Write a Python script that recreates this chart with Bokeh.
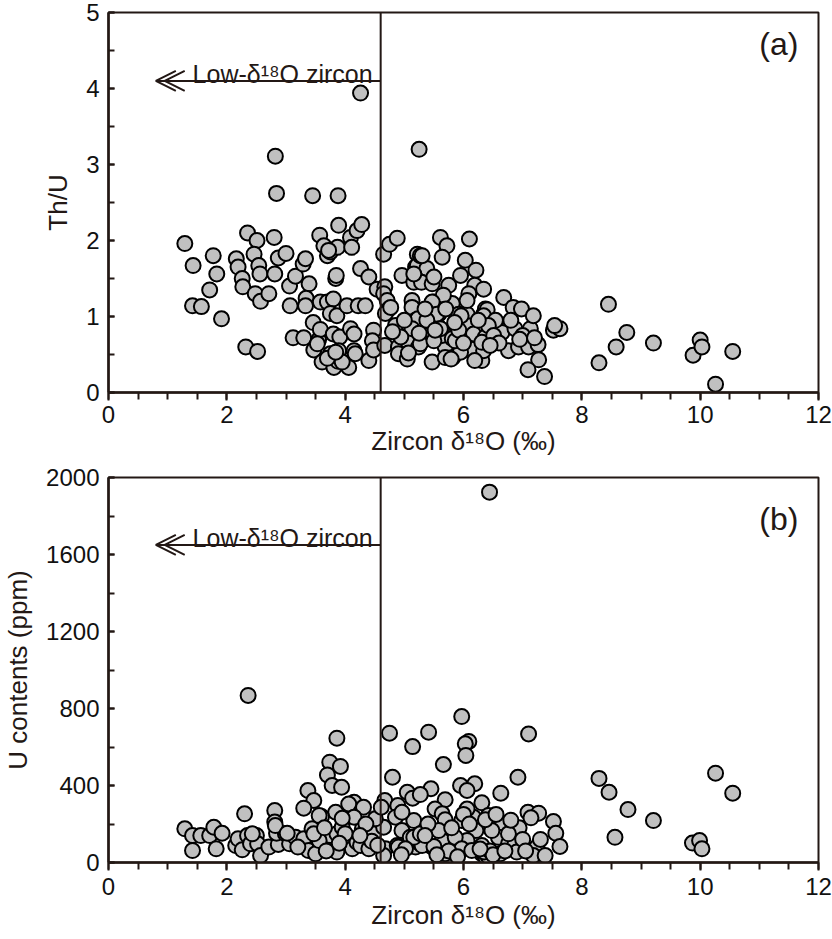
from bokeh.plotting import figure
from bokeh.layouts import column
from bokeh.models import Span, Arrow, OpenHead, Label, Range1d, FixedTicker, ColumnDataSource
from bokeh.embed import file_html
from bokeh.resources import INLINE

# ---------------- data: panel (a) ----------------
d18o_a = [
    1.29, 1.43, 1.42, 1.57, 1.77, 1.83, 1.71, 1.91, 2.35, 2.51, 2.16, 2.19, 2.26, 2.27, 2.46, 2.54,
    2.56, 2.48, 2.57, 2.71, 2.80, 2.87, 3.00, 2.81, 3.06, 3.16, 3.07, 2.32, 2.52, 3.12, 3.30, 3.29,
    3.33, 3.39, 3.34, 3.33, 3.46, 3.47, 3.55, 3.58, 3.57, 3.64, 3.70, 3.75, 3.87, 3.89, 3.84, 3.85,
    3.58, 3.70, 3.80, 3.75, 3.86, 3.80, 3.91, 3.61, 3.75, 3.81, 3.88, 3.89, 4.06, 3.95, 4.09, 4.20,
    4.28, 4.11, 4.26, 4.40, 4.03, 4.22, 4.34, 4.09, 4.15, 4.15, 4.17, 4.40, 4.48, 4.46, 4.48, 4.54,
    3.53, 3.70, 3.84, 3.72,
    4.26, 2.82, 2.84, 3.45, 3.88, 5.25,
    4.65, 4.75, 4.88, 4.67, 4.65, 4.71, 4.74, 4.68, 4.85, 4.67, 4.90, 4.90, 5.05, 5.05, 4.96, 5.13,
    5.16, 5.19, 5.22, 5.13, 5.19, 5.24, 4.77, 5.07, 5.23, 5.22, 5.27, 5.38, 5.29, 5.47, 5.50, 5.58,
    5.61, 5.72, 5.64, 5.47, 5.67, 5.69, 5.75, 5.81, 5.82, 5.95, 6.03, 6.10, 6.21, 6.19, 6.34, 6.09,
    6.06, 6.06, 6.17, 6.34, 6.14, 6.31, 6.34, 6.37, 6.54, 6.65, 6.68, 6.76, 5.95, 5.92, 5.13, 4.94,
    5.27, 5.58, 5.64, 5.47, 5.81, 5.30, 5.16, 5.50, 5.66, 5.47, 5.55, 5.61, 5.69, 5.79, 6.06, 5.96,
    6.40, 6.34, 6.37, 6.19, 6.84, 6.98, 6.87, 6.93, 7.13, 7.18, 7.10, 7.26, 7.27, 7.09, 7.37, 7.52,
    7.63, 7.54, 8.29, 8.45, 8.58, 8.76, 9.21, 9.88, 10.00, 10.03, 10.26, 10.55, 6.54, 6.42, 6.31, 6.51,
    5.86, 5.92, 5.50, 5.38, 5.52, 4.80, 5.00, 5.35, 5.70, 6.00, 6.25, 6.60, 6.80, 7.00, 6.45, 5.85,
    5.25, 6.95, 7.20,
]
th_u = [
    1.96, 1.67, 1.14, 1.13, 1.80, 1.56, 1.35, 0.97, 2.10, 2.00, 1.76, 1.65, 1.50, 1.39, 1.82, 1.67,
    1.56, 1.30, 1.20, 1.30, 2.04, 1.77, 1.83, 1.56, 1.40, 1.53, 1.14, 0.60, 0.54, 0.72, 0.72, 1.69,
    1.76, 1.43, 1.24, 1.14, 0.92, 0.56, 0.69, 0.83, 2.07, 1.93, 1.80, 1.85, 1.91, 2.20, 1.50, 1.54,
    1.19, 1.19, 1.23, 1.04, 1.01, 0.77, 0.73, 0.40, 0.51, 0.33, 0.41, 0.55, 0.33, 0.40, 2.04, 2.13,
    2.21, 1.91, 1.63, 1.52, 1.14, 1.14, 1.14, 0.84, 0.77, 0.55, 0.51, 0.42, 0.82, 0.68, 0.56, 1.36,
    0.64, 0.45, 0.53, 1.87,
    3.94, 3.11, 2.62, 2.59, 2.59, 3.20,
    1.82, 1.95, 2.03, 1.39, 1.30, 1.21, 1.10, 1.04, 0.88, 0.62, 0.60, 0.51, 0.44, 0.68, 1.54, 1.21,
    1.45, 1.65, 1.82, 1.12, 0.95, 0.60, 1.12, 0.52, 0.97, 1.67, 1.80, 1.63, 1.45, 1.43, 1.19, 1.03,
    2.04, 1.93, 1.78, 0.40, 0.77, 0.60, 1.41, 1.17, 0.46, 1.54, 1.74, 2.02, 1.61, 1.41, 1.36, 1.30,
    1.03, 0.88, 0.77, 1.03, 0.57, 0.42, 0.55, 1.10, 0.86, 0.79, 1.25, 0.55, 0.53, 1.03, 0.84, 0.73,
    0.64, 0.86, 0.75, 0.79, 0.71, 1.80, 1.56, 1.52, 1.28, 1.19, 1.03, 0.84, 0.46, 0.44, 1.21, 1.01,
    1.09, 1.01, 0.73, 0.42, 1.12, 1.10, 0.84, 0.60, 0.84, 1.01, 0.60, 0.63, 0.43, 0.30, 0.21, 0.82,
    0.84, 0.88, 0.39, 1.16, 0.60, 0.79, 0.65, 0.49, 0.69, 0.60, 0.11, 0.54, 0.95, 0.88, 0.66, 0.75,
    0.68, 0.82, 0.68, 0.95, 0.82, 0.80, 0.95, 1.10, 1.10, 0.65, 0.95, 0.65, 0.95, 0.75, 0.62, 0.92,
    0.78, 0.70, 0.72,
]

# ---------------- data: panel (b) ----------------
d18o_b = [
    1.29, 1.42, 1.56, 1.71, 1.78, 1.92, 1.42, 1.82, 2.15, 2.19, 2.26, 2.35, 2.40, 2.50, 2.52, 2.57,
    2.71, 2.87, 2.84, 2.99, 3.06, 3.16, 3.30, 3.38, 3.44, 3.58, 3.58, 3.50, 3.72, 3.75, 3.86, 3.95,
    3.86, 4.06, 4.12, 4.20, 4.26, 4.29, 4.40, 4.48, 4.65, 4.68, 4.65, 2.36, 3.86, 3.74, 3.92, 3.70,
    3.78, 3.94, 3.37, 3.47, 3.30, 3.84, 4.15, 4.31, 4.06, 3.60, 4.15, 4.51, 2.30, 2.81, 2.81, 2.82,
    2.43, 3.02, 3.56, 3.56, 3.47, 3.65, 3.95, 4.00, 4.35, 4.45, 3.20, 3.90, 4.25, 3.68, 4.55,
    4.75, 4.80, 5.14, 4.67, 4.61, 4.89, 5.05, 5.14, 4.85, 5.05, 4.96, 5.10, 5.19, 5.16, 4.88, 5.41,
    5.97, 6.09, 6.03, 6.04, 5.66, 5.45, 5.27, 5.95, 6.19, 6.06, 6.63, 5.69, 5.52, 6.31, 5.64, 5.97,
    6.17, 6.42, 6.65, 5.27, 5.47, 5.64, 6.21, 6.06, 6.59, 4.90, 5.86, 6.31, 6.76, 6.44, 7.10, 6.92,
    7.09, 7.27, 7.14, 7.52, 7.56, 7.63, 6.94, 5.69, 8.56, 8.29, 8.46, 8.78, 9.21, 9.87, 9.99, 10.03,
    10.26, 10.55, 5.30, 5.50, 5.69, 5.86, 6.31, 6.34, 6.62, 6.87, 6.90, 7.24, 7.18, 7.38, 5.16, 5.02,
    5.27, 5.58, 5.97, 6.14, 6.48, 6.76, 6.37, 6.06, 4.96, 6.38, 6.42, 6.35, 6.45, 6.50, 6.28, 5.40,
    5.80, 6.00, 6.55, 6.80, 7.00, 7.30, 5.35, 5.75, 6.10, 4.95, 5.55, 6.70, 7.05, 5.90,
]
u_ppm = [
    175, 140, 140, 140, 183, 152, 62, 71, 88, 123, 66, 140, 97, 140, 97, 36,
    80, 94, 152, 149, 97, 131, 123, 62, 175, 149, 97, 45, 88, 140, 149, 183,
    54, 114, 71, 105, 88, 175, 71, 149, 183, 71, 36, 868, 646, 521, 499, 455,
    400, 391, 374, 322, 282, 261, 313, 287, 304, 239, 235, 227, 253, 270, 210, 192,
    149, 152, 114, 244, 149, 180, 230, 150, 200, 110, 80, 100, 140, 60, 90,
    672, 443, 602, 322, 287, 296, 365, 334, 235, 80, 166, 131, 80, 218, 88, 677,
    758, 629, 617, 556, 509, 383, 353, 400, 409, 374, 360, 326, 278, 310, 253, 218,
    235, 244, 204, 97, 80, 114, 166, 114, 131, 80, 80, 45, 97, 1924, 668, 443,
    261, 256, 232, 213, 152, 83, 180, 222, 131, 437, 365, 275, 218, 101, 114, 71,
    464, 360, 88, 83, 45, 131, 88, 45, 45, 97, 54, 80, 36, 36, 131, 71,
    149, 166, 71, 62, 166, 149, 222, 278, 261, 25, 30, 55, 60, 40, 70, 200,
    180, 250, 250, 220, 120, 120, 140, 60, 200, 40, 40, 60, 60, 30,
]

x_ticks = [0, 2, 4, 6, 8, 10, 12]
a_ticks = [0, 1, 2, 3, 4, 5]
b_ticks = [0, 400, 800, 1200, 1600, 2000]
low_o_limit = 4.6
arrow_tip = 0.8
arrow_y_a = 4.1
arrow_y_b = 1650

INK = "#231815"
FONT = "Liberation Sans"
FILL = "#c0c0c0"


def make_panel(xs, ys, yticks, ylabel, panel_label, arrow_y, label_y,
               top_border, frame_h, bottom_border, tick_standoff, label_standoff):
    ymax = yticks[-1]
    p = figure(width=832, height=top_border + frame_h + bottom_border,
               x_range=Range1d(0, 12), y_range=Range1d(0, ymax),
               output_backend="svg", toolbar_location=None,
               min_border_left=106, min_border_right=14,
               min_border_top=top_border, min_border_bottom=bottom_border)
    p.xgrid.visible = False
    p.ygrid.visible = False
    p.background_fill_color = "white"
    p.border_fill_color = "white"
    p.outline_line_color = INK
    p.outline_line_width = 2
    p.outline_line_alpha = 1

    p.xaxis.ticker = FixedTicker(ticks=x_ticks, minor_ticks=[i * 0.5 for i in range(25)])
    p.yaxis.ticker = FixedTicker(ticks=yticks,
                                 minor_ticks=[yticks[1] * 0.5 * i for i in range(2 * len(yticks) - 1)])

    for ax in (p.xaxis[0], p.yaxis[0]):
        ax.axis_line_color = INK
        ax.axis_line_width = 2.5
        ax.major_tick_line_color = INK
        ax.minor_tick_line_color = INK
        ax.major_tick_line_width = 2
        ax.minor_tick_line_width = 2
        ax.major_label_text_font = FONT
        ax.major_label_text_font_size = "24px"
        ax.major_label_text_color = "#111111"
        ax.axis_label_text_font = FONT
        ax.axis_label_text_font_size = "26px"
        ax.axis_label_text_font_style = "normal"
        ax.axis_label_text_color = INK

    p.xaxis.major_tick_in = 0
    p.xaxis.major_tick_out = 8
    p.xaxis.minor_tick_in = 0
    p.xaxis.minor_tick_out = 7
    p.xaxis.major_label_standoff = tick_standoff
    p.xaxis.axis_label_standoff = label_standoff
    p.xaxis.axis_label = "Zircon δ¹⁸O (‰)"

    p.yaxis.major_tick_in = 6
    p.yaxis.major_tick_out = 0
    p.yaxis.minor_tick_in = 6
    p.yaxis.minor_tick_out = 0
    p.yaxis.major_label_standoff = 9
    p.yaxis.axis_label_standoff = 10
    p.yaxis.axis_label = ylabel

    p.add_layout(Span(location=low_o_limit, dimension="height",
                      line_color=INK, line_width=2))

    p.add_layout(Arrow(x_start=low_o_limit, y_start=arrow_y, x_end=arrow_tip, y_end=arrow_y,
                       line_color=INK, line_width=2,
                       end=OpenHead(size=20, line_color=INK, line_width=2)))
    p.add_layout(Arrow(x_start=low_o_limit, y_start=arrow_y, x_end=arrow_tip + 0.15, y_end=arrow_y,
                       line_alpha=0, line_width=2,
                       end=OpenHead(size=20, line_color=INK, line_width=2)))

    p.add_layout(Label(x=low_o_limit, y=arrow_y, x_offset=-8, y_offset=7,
                       text="Low-δ¹⁸O zircon", text_align="right", text_baseline="alphabetic",
                       text_font=FONT, text_font_size="25px", text_color=INK))

    p.add_layout(Label(x=11.66, y=label_y, text=panel_label, text_align="right",
                       text_baseline="middle", text_font=FONT, text_font_size="32px",
                       text_color=INK))

    src = ColumnDataSource(data=dict(x=xs, y=ys))
    p.scatter("x", "y", source=src, size=15, marker="circle",
              fill_color=FILL, line_color="black", line_width=2)
    return p


pa = make_panel(d18o_a, th_u, a_ticks, "Th/U", "(a)", arrow_y_a, 4.58,
                12, 380, 70, 5, 0)
pb = make_panel(d18o_b, u_ppm, b_ticks, "U contents (ppm)", "(b)", arrow_y_b, 1787,
                15, 385, 74, 7, 2)

layout = column(pa, pb, spacing=0)
open("out.html", "w").write(file_html(layout, INLINE))
